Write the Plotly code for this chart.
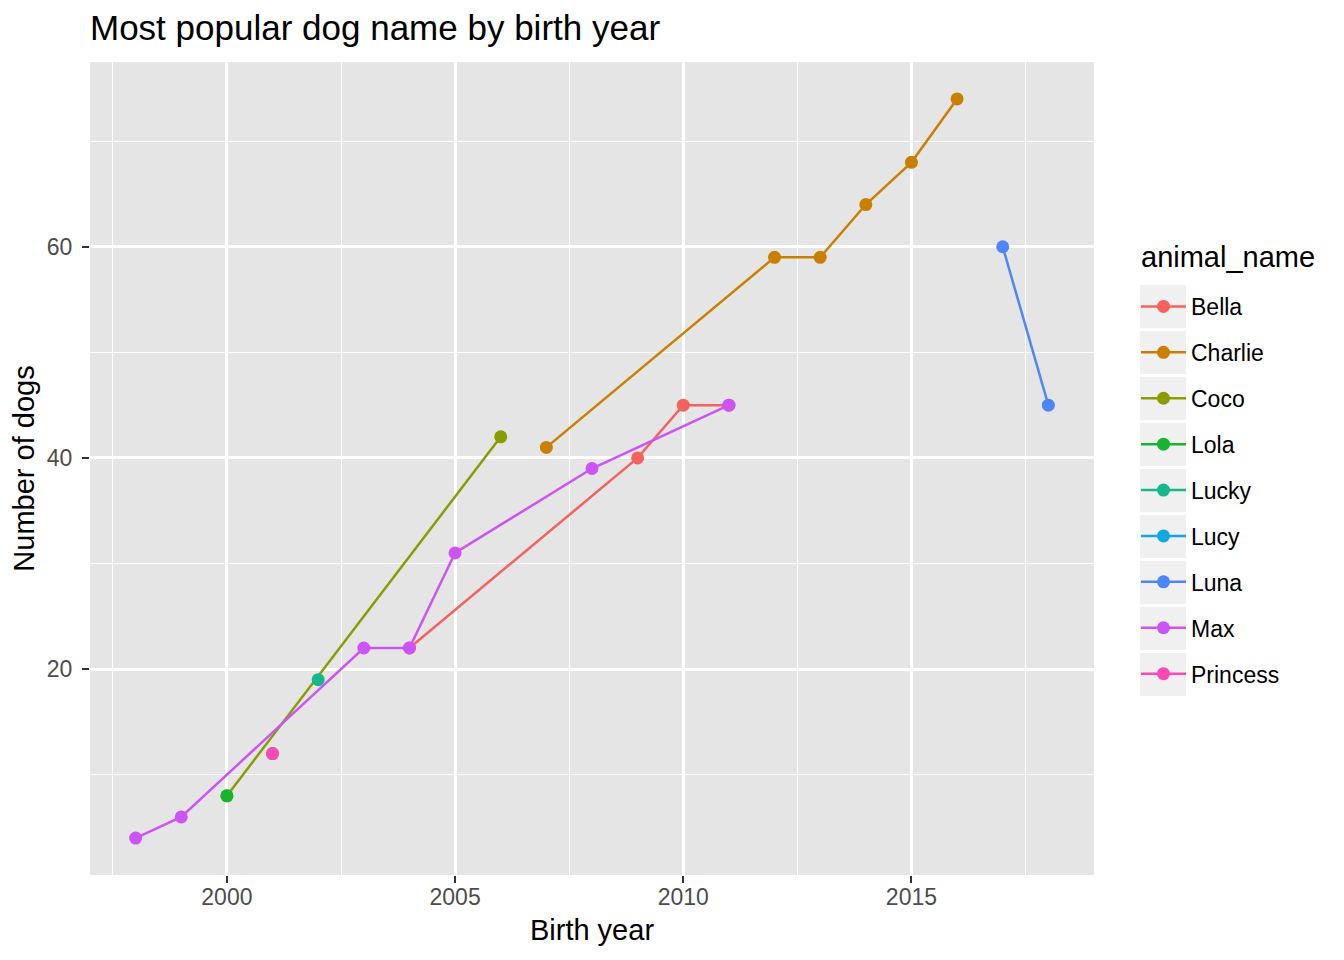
import plotly.graph_objects as go

names = ["Bella", "Charlie", "Coco", "Lola", "Lucky", "Lucy", "Luna", "Max", "Princess"]
colors = ["#F5625E", "#C98002", "#8A9C00", "#18B32F", "#16B78B", "#12A8DE", "#4D85FF", "#CC54F6", "#FC48B5"]

bella_years = [2004, 2009, 2010, 2011]
bella_counts = [22, 40, 45, 45]
charlie_years = [2007, 2012, 2013, 2014, 2015, 2016]
charlie_counts = [41, 59, 59, 64, 68, 74]
coco_years = [2000, 2006]
coco_counts = [8, 42]
lola_years = [2000]
lola_counts = [8]
lucky_years = [2002]
lucky_counts = [19]
lucy_years = [2001]
lucy_counts = [12]
luna_years = [2017, 2018]
luna_counts = [60, 45]
max_years = [1998, 1999, 2003, 2004, 2005, 2008, 2011]
max_counts = [4, 6, 22, 22, 31, 39, 45]
princess_years = [2001]
princess_counts = [12]

series = [
    (bella_years, bella_counts), (charlie_years, charlie_counts), (coco_years, coco_counts),
    (lola_years, lola_counts), (lucky_years, lucky_counts), (lucy_years, lucy_counts),
    (luna_years, luna_counts), (max_years, max_counts), (princess_years, princess_counts),
]

FONT = "Liberation Sans, Arial, sans-serif"
OFF = 8  # page body margin
FW, FH = 1344 - OFF, 960 - OFF
L, T, PW, PH = 90 - OFF, 62 - OFF, 1004, 813
B = T + PH

fig = go.Figure()
for name, col, (xs, ys) in zip(names, colors, series):
    fig.add_trace(go.Scatter(
        x=xs, y=ys, name=name, mode="lines+markers", legendgroup=name,
        line=dict(color=col, width=2.5), marker=dict(color=col, size=13),
    ))

def py(page_y):
    return (B - (page_y - OFF)) / PH

def px(page_x):
    return ((page_x - OFF) - L) / PW

shapes = []
for i in range(len(names)):
    c = 306.5 + i * 46.0
    shapes.append(dict(type="rect", xref="paper", yref="paper", layer="below",
                       x0=px(1140), x1=px(1186), y0=py(c + 21.5), y1=py(c - 21.5),
                       fillcolor="#F0F0F0", line=dict(width=0)))

fig.update_layout(
    width=FW, height=FH,
    margin=dict(l=L, r=FW - L - PW, t=T, b=FH - B),
    paper_bgcolor="white", plot_bgcolor="#E5E5E5",
    font=dict(family=FONT, color="black"),
    title=dict(text="Most popular dog name by birth year", x=L / FW, xanchor="left",
               y=1 - (28 - OFF) / FH, yanchor="middle", font=dict(size=35, color="black")),
    showlegend=True,
    legend=dict(font=dict(size=23, color="black"), x=px(1136), xanchor="left",
                y=py(285), yanchor="top", tracegroupgap=13, bgcolor="rgba(0,0,0,0)",
                itemwidth=45),
    annotations=[dict(text="animal_name", xref="paper", yref="paper", x=px(1139), y=py(257),
                      xanchor="left", yanchor="middle", showarrow=False,
                      font=dict(size=29, color="black"))],
    shapes=shapes,
)
fig.update_xaxes(
    range=[1997, 2019], tickmode="linear", tick0=2000, dtick=5,
    showgrid=True, gridcolor="white", gridwidth=2.6, zeroline=False,
    ticks="outside", ticklen=7, tickcolor="#333333", tickwidth=2.4,
    tickfont=dict(size=23, color="#4D4D4D"), ticklabelstandoff=-6,
    minor=dict(tick0=2000, dtick=2.5, showgrid=True, gridcolor="white", gridwidth=1.3, ticks=""),
    title=dict(text="Birth year", font=dict(size=29, color="black"), standoff=11),
)
fig.update_yaxes(
    range=[0.5, 77.5], tickmode="linear", tick0=0, dtick=20,
    showgrid=True, gridcolor="white", gridwidth=2.6, zeroline=False,
    ticks="outside", ticklen=7, tickcolor="#333333", tickwidth=2.4,
    tickfont=dict(size=23, color="#4D4D4D"), ticklabelstandoff=5,
    minor=dict(tick0=0, dtick=10, showgrid=True, gridcolor="white", gridwidth=1.3, ticks=""),
    title=dict(text="Number of dogs", font=dict(size=29, color="black"), standoff=8),
)
fig.write_html("out.html")
